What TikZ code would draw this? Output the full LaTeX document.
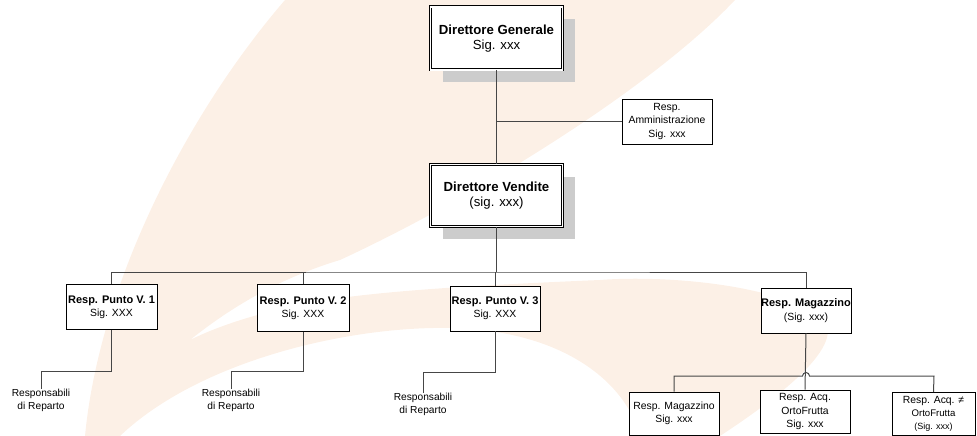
\documentclass[tikz,border=0pt]{standalone}
\usepackage{fontspec}
\setmainfont{Liberation Sans}
\usetikzlibrary{shadows}
\definecolor{bgpeach}{RGB}{252,240,230}
\definecolor{linegray}{RGB}{70,70,70}
\newcommand{\headfont}{\fontsize{11}{13.3}\selectfont\bfseries}
\begin{document}
\begin{tikzpicture}
[x=1pt,y=-1pt,
  bigboxdecorate/.style={shape=rectangle,draw,double,double distance=1.6pt,line width=0.7pt,
    fill=white,minimum width=132,minimum height=63,inner sep=0pt,align=center,
    font=\fontsize{13.2}{15.5}\selectfont,
    drop shadow={shadow xshift=12pt,shadow yshift=-12pt,fill=black!20,opacity=1}},%
  boxdecorate/.style={shape=rectangle,draw,line width=0.8pt,fill=white,
    minimum width=90,minimum height=45,inner sep=0pt,align=center,
    font=\fontsize{10.4}{13.3}\selectfont},%
  textdecorate/.style={inner sep=0pt,align=center,anchor=north,
    font=\fontsize{10.2}{12.5}\selectfont},%
  linedecorate/.style={-,line width=1pt,draw=linegray}]
\useasboundingbox (0,0) rectangle (977,436);
%%% background
\fill[bgpeach] (285,0) .. controls (190,110) and (100,280) .. (85,436) -- (120,436)
  .. controls (200,360) and (350,326) .. (450,328)
  .. controls (560,330) and (625,380) .. (640,436) -- (720,436)
  .. controls (790,390) and (850,340) .. (820,315)
  .. controls (760,280) and (650,276) .. (600,280)
  .. controls (480,285) and (400,290) .. (340,298)
  .. controls (270,308) and (220,325) .. (190,340)
  .. controls (240,300) and (290,275) .. (340,260)
  .. controls (470,200) and (650,90) .. (735,0) -- cycle;
%
%%% top of the chart
% nodes or boxes
\node (a) at (496.5,38.5) [bigboxdecorate] {\textbf{Direttore Generale}\\Sig. xxx};
\node (b) at (496.5,195.5) [bigboxdecorate,minimum height=62] {\textbf{Direttore Vendite}\\(sig. xxx)};
\node (c) at (667,121.5) [boxdecorate] {Resp.\\Amministrazione\\Sig. xxx};
\coordinate (cb) at (496.5,121.5);
% edges or lines
\path
(a) edge[linedecorate] node {} (b)
(cb) edge[linedecorate] node {} (c);
%
%%% punti vendita and magazzino
% nodes or boxes
\node (d) at (111.5,307) [boxdecorate,minimum width=91] {{\headfont Resp. Punto V. 1}\\Sig. XXX};
\node (e) at (303,308) [boxdecorate,minimum width=92,minimum height=47] {{\headfont Resp. Punto V. 2}\\Sig. XXX};
\node (f) at (495,308.5) [boxdecorate] {{\headfont Resp. Punto V. 3}\\Sig. XXX};
\node (g) at (806,310.5) [boxdecorate] {{\headfont Resp. Magazzino}\\(Sig. xxx)};
\coordinate (bus) at (496.5,272);
% edges or lines
\draw[linedecorate] (b.south) -- (bus);
\draw[linedecorate] (d.north) |- (bus) -| (g.north);
\draw[linedecorate] (e.north) -- (e.north |- bus);
\draw[linedecorate] (f.north) -- (f.north |- bus);
%
%%% responsabili di reparto
% nodes or texts
\node (h) at (41,389) [textdecorate] {Responsabili\\di Reparto};
\node (i) at (231,389) [textdecorate] {Responsabili\\di Reparto};
\node (j) at (423,393) [textdecorate] {Responsabili\\di Reparto};
% edges or lines
\draw[linedecorate] (d.south) -- ++(0,42) -| (h.north);
\draw[linedecorate] (e.south) -- ++(0,40) -| (i.north);
\draw[linedecorate] (f.south) -- ++(0,41) -| (j.north);
%
%%% magazzino
% nodes or boxes
\node (k) at (674,413.5) [boxdecorate,minimum height=43] {Resp. Magazzino\\Sig. xxx};
\node (l) at (805,411.5) [boxdecorate,minimum height=43] {Resp. Acq.\\OrtoFrutta\\Sig. xxx};
\node (m) at (933.5,414) [boxdecorate,minimum width=83,minimum height=43]
  {Resp. Acq. ≠\\{\fontsize{9.6}{12.5}\selectfont OrtoFrutta}\\{\fontsize{9}{12}\selectfont(Sig. xxx)}};
\coordinate (kb) at (674,376);
\coordinate (mb) at (934,376);
% edges or lines
\draw[linedecorate] (g.south) -- (l.north);
\draw[linedecorate] (k.north) -- (kb) -- (802.5,376) arc (180:360:3.5) -- (mb) -- (m.north);
\end{tikzpicture}
\end{document}
